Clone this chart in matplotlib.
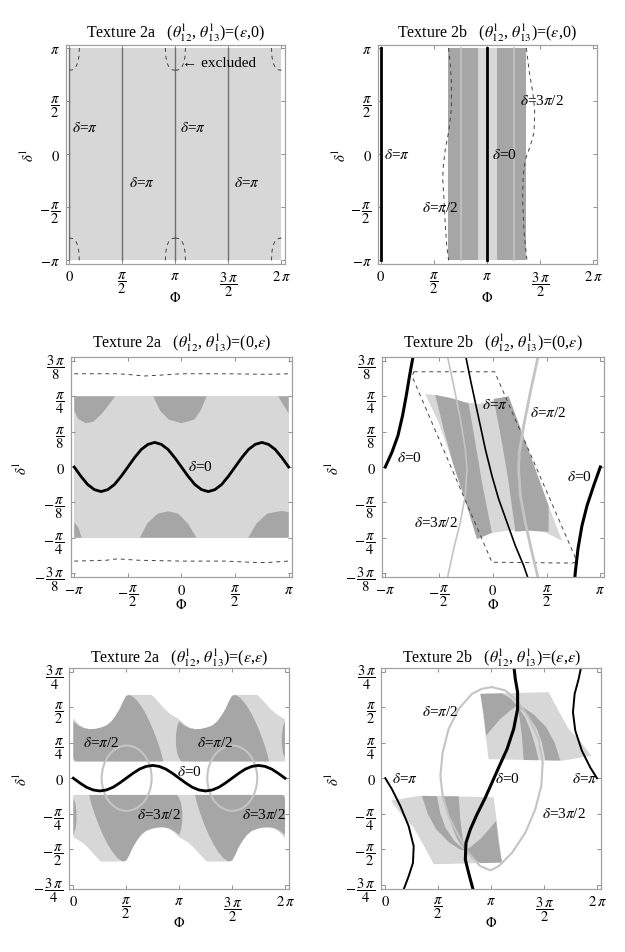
import matplotlib
matplotlib.use("Agg")
import matplotlib.pyplot as plt
from matplotlib.patches import Ellipse

plt.rcParams["font.family"] = ["Liberation Serif", "DejaVu Serif"]
plt.rcParams["mathtext.fontset"] = "stix"

W, H = 625, 953
LIGHT, DARK = "#d7d7d7", "#a6a6a6"
GLINE = "#c4c4c4"

# all coordinates below are in units of pi
# ---- panel 1: texture 2a, (eps, 0)
P1_BAND_X = [0.0, 2.0]
P1_BAND_Y = [-1.0, 1.0]
P1_VLINES = [0.0, 0.5, 1.0, 1.5]
ARC_DX = [0.095, 0.090, 0.080, 0.060, 0.030, 0.0]
ARC_DY = [0.0, 0.08, 0.14, 0.18, 0.205, 0.21]
P1_ARC_CORNERS = [(0.0, 1, [1]), (1.0, 1, [-1, 1]), (2.0, 1, [-1]),
                  (0.0, -1, [1]), (1.0, -1, [-1, 1]), (2.0, -1, [-1])]
P1_LABELS = [(0.023, 0.253), (1.043, 0.253), (0.565, -0.265), (1.555, -0.265)]

# ---- panel 2: texture 2b, (eps, 0)
P2_DARK_X = [0.632, 1.371]
P2_LIGHT_X = [0.912, 1.094]
P2_GLINES = [0.755, 1.257]
P2_BLACK = [0.0, 1.0]
P2_DASH_L_X = [0.638, 0.654, 0.664, 0.664, 0.638, 0.607, 0.588, 0.582, 0.594, 0.607, 0.620, 0.638]
P2_DASH_L_Y = [1.0, 0.836, 0.679, 0.427, 0.207, 0.050, -0.107, -0.233, -0.422, -0.673, -0.862, -1.0]
P2_DASH_R_X = [1.371, 1.399, 1.431, 1.450, 1.444, 1.410, 1.363, 1.341, 1.336, 1.349, 1.377]
P2_DASH_R_Y = [1.0, 0.773, 0.585, 0.427, 0.207, 0.081, -0.045, -0.202, -0.422, -0.736, -1.0]

# ---- panel 3: texture 2a, (0, eps)
P3_BAND_Y = [-0.25, 0.25]
P3_DARK = [
    ([-1.0, -1.0, -0.963, -0.891, -0.823, -0.745, -0.683, -0.62],
     [0.25, 0.199, 0.170, 0.155, 0.160, 0.1875, 0.217, 0.25]),
    ([-0.263, -0.2, -0.12, 0.0, 0.12, 0.18, 0.235],
     [0.25, 0.2, 0.168, 0.155, 0.168, 0.2, 0.25]),
    ([0.903, 0.95, 1.0, 1.0], [0.25, 0.22, 0.19, 0.25]),
    ([-1.0, -0.931, -0.96, -1.0], [-0.25, -0.25, -0.215, -0.196]),
    ([-0.387, -0.32, -0.22, -0.123, -0.03, 0.06, 0.14],
     [-0.25, -0.2, -0.165, -0.157, -0.165, -0.2, -0.25]),
    ([0.623, 0.70, 0.80, 0.935, 1.0, 1.0],
     [-0.25, -0.2, -0.165, -0.155, -0.16, -0.25]),
]
P3_DASH_TOP_X = [-1.0, -0.6, -0.45, -0.35, -0.2, 0.0, 0.4, 0.8, 1.0]
P3_DASH_TOP_Y = [0.330, 0.330, 0.326, 0.322, 0.325, 0.330, 0.330, 0.328, 0.330]
P3_DASH_BOT_X = [-1.0, -0.7, -0.6, -0.4, 0.0, 0.4, 0.7, 0.8, 1.0]
P3_DASH_BOT_Y = [-0.333, -0.330, -0.325, -0.330, -0.333, -0.333, -0.338, -0.338, -0.333]
SIN_X = [-1.0, -0.9375, -0.875, -0.8125, -0.75, -0.6875, -0.625, -0.5625, -0.5,
         -0.4375, -0.375, -0.3125, -0.25, -0.1875, -0.125, -0.0625, 0.0,
         0.0625, 0.125, 0.1875, 0.25, 0.3125, 0.375, 0.4375, 0.5,
         0.5625, 0.625, 0.6875, 0.75, 0.8125, 0.875, 0.9375, 1.0]
P3_SIN_Y = [0, -.033, -.062, -.080, -.087, -.080, -.062, -.033, 0,
            .033, .062, .080, .087, .080, .062, .033, 0,
            -.033, -.062, -.080, -.087, -.080, -.062, -.033, 0,
            .033, .062, .080, .087, .080, .062, .033, 0]

# ---- panel 4: texture 2b, (0, eps)
P4_LIGHT_X = [-0.628, -0.535, -0.38, -0.256, -0.132, -0.008, 0.147, 0.271, 0.395, 0.519, 0.643,
              0.488, 0.333, 0.147, -0.008, -0.147, -0.271, -0.395, -0.504]
P4_LIGHT_Y = [0.258, 0.255, 0.243, 0.229, 0.223, 0.235, 0.25, 0.123, -0.007, -0.137, -0.261,
              -0.231, -0.225, -0.225, -0.233, -0.255, -0.101, 0.04, 0.158]
P4_DARK = [
    ([-0.535, -0.38, -0.225, -0.163, -0.101, -0.008, -0.147, -0.271, -0.364, -0.457],
     [0.255, 0.243, 0.225, 0.087, -0.054, -0.233, -0.255, -0.101, 0.005, 0.134]),
    ([0.008, 0.147, 0.271, 0.395, 0.519, 0.519, 0.333, 0.209, 0.147, 0.085],
     [0.241, 0.25, 0.123, -0.007, -0.137, -0.229, -0.225, -0.229, -0.054, 0.087]),
]
P4_ZERO_L_X = [-1.0, -0.938, -0.882, -0.839, -0.805, -0.774, -0.743, -0.738]
P4_ZERO_L_Y = [0.0, 0.052, 0.111, 0.182, 0.252, 0.323, 0.388, 0.40]
P4_ZERO_R_X = [1.0, 0.938, 0.876, 0.829, 0.792, 0.767, 0.761]
P4_ZERO_R_Y = [0.0, -0.066, -0.137, -0.208, -0.29, -0.373, -0.40]
P4_PI_X = [-0.256, -0.209, -0.163, -0.116, -0.07, -0.008, 0.054, 0.132, 0.209, 0.287, 0.333]
P4_PI_Y = [0.40, 0.311, 0.229, 0.146, 0.064, -0.031, -0.113, -0.196, -0.278, -0.349, -0.40]
P4_3PI2_X = [-0.426, -0.364, -0.302, -0.256, -0.24, -0.256, -0.302, -0.364, -0.426]
P4_3PI2_Y = [0.40, 0.288, 0.17, 0.064, -0.007, -0.101, -0.196, -0.29, -0.40]
P4_PI2_X = [0.426, 0.349, 0.287, 0.247, 0.24, 0.256, 0.302, 0.364, 0.426]
P4_PI2_Y = [0.40, 0.264, 0.146, 0.052, -0.007, -0.101, -0.196, -0.302, -0.40]
P4_DASH_X = [-0.735, -0.72, 0.017, 0.767, 0.767, 0.74, -0.008, -0.75, -0.735]
P4_DASH_Y = [0.337, 0.337, 0.337, -0.32, -0.337, -0.340, -0.337, 0.32, 0.337]

# ---- panel 5: texture 2a, (eps, eps)
P5_TOP_LIGHT_X = [0.0, 0.05, 0.10, 0.15, 0.205, 0.26, 0.315, 0.36, 0.40, 0.44, 0.47, 0.50, 0.53,
                  0.74, 0.80, 0.86, 0.92, 1.0, 1.05, 1.10, 1.15, 1.205, 1.26, 1.315, 1.36, 1.40,
                  1.44, 1.47, 1.50, 1.53, 1.74, 1.80, 1.86, 1.92, 2.0, 2.0, 0.0]
P5_TOP_LIGHT_Y = [0.425, 0.38, 0.356, 0.347, 0.347, 0.356, 0.372, 0.40, 0.44, 0.49, 0.54, 0.58, 0.587,
                  0.587, 0.54, 0.49, 0.45, 0.415, 0.38, 0.356, 0.347, 0.347, 0.356, 0.372, 0.40, 0.44,
                  0.49, 0.54, 0.58, 0.587, 0.587, 0.54, 0.49, 0.45, 0.415, 0.118, 0.118]
P5_TOP_DARK = [
    ([0.0, 0.05, 0.10, 0.15, 0.205, 0.26, 0.315, 0.36, 0.40, 0.44, 0.47, 0.50, 0.53,
      0.58, 0.63, 0.68, 0.72, 0.76, 0.80, 0.83, 0.85, 0.02, 0.0],
     [0.40, 0.37, 0.352, 0.345, 0.347, 0.356, 0.372, 0.40, 0.44, 0.49, 0.54, 0.58, 0.587,
      0.565, 0.52, 0.46, 0.40, 0.33, 0.25, 0.18, 0.118, 0.118, 0.14]),
    ([0.98, 0.97, 0.97, 0.98, 1.0, 1.02, 1.85, 1.83, 1.80, 1.76, 1.72, 1.68, 1.63, 1.58, 1.53,
      1.50, 1.47, 1.44, 1.40, 1.36, 1.315, 1.26, 1.205, 1.15, 1.10, 1.05, 1.0],
     [0.36, 0.30, 0.24, 0.18, 0.14, 0.118, 0.118, 0.18, 0.25, 0.33, 0.40, 0.46, 0.52, 0.565, 0.587,
      0.58, 0.54, 0.49, 0.44, 0.40, 0.372, 0.356, 0.347, 0.345, 0.352, 0.37, 0.40]),
    ([2.0, 1.98, 1.97, 1.97, 1.98, 2.0], [0.40, 0.36, 0.30, 0.24, 0.18, 0.14]),
]
P5_BOT_LIGHT_X = [2.0, 1.95, 1.90, 1.85, 1.795, 1.74, 1.685, 1.64, 1.60, 1.56, 1.53, 1.50, 1.47,
                  1.26, 1.20, 1.14, 1.08, 1.0, 0.95, 0.90, 0.85, 0.795, 0.74, 0.685, 0.64, 0.60,
                  0.56, 0.53, 0.50, 0.47, 0.26, 0.20, 0.14, 0.08, 0.0, 0.0, 2.0]
P5_BOT_LIGHT_Y = [-0.425, -0.38, -0.356, -0.347, -0.347, -0.356, -0.372, -0.40, -0.44, -0.49, -0.54,
                  -0.58, -0.587, -0.587, -0.54, -0.49, -0.45, -0.415, -0.38, -0.356, -0.347, -0.347,
                  -0.356, -0.372, -0.40, -0.44, -0.49, -0.54, -0.58, -0.587, -0.587, -0.54, -0.49,
                  -0.45, -0.415, -0.118, -0.118]
P5_BOT_DARK = [
    ([2.0, 1.95, 1.90, 1.85, 1.795, 1.74, 1.685, 1.64, 1.60, 1.56, 1.53, 1.50, 1.47,
      1.42, 1.37, 1.32, 1.28, 1.24, 1.20, 1.17, 1.15, 1.98, 2.0],
     [-0.40, -0.37, -0.352, -0.345, -0.347, -0.356, -0.372, -0.40, -0.44, -0.49, -0.54, -0.58, -0.587,
      -0.565, -0.52, -0.46, -0.40, -0.33, -0.25, -0.18, -0.118, -0.118, -0.14]),
    ([1.02, 1.03, 1.03, 1.02, 1.0, 0.98, 0.15, 0.17, 0.20, 0.24, 0.28, 0.32, 0.37, 0.42, 0.47,
      0.50, 0.53, 0.56, 0.60, 0.64, 0.685, 0.74, 0.795, 0.85, 0.90, 0.95, 1.0],
     [-0.36, -0.30, -0.24, -0.18, -0.14, -0.118, -0.118, -0.18, -0.25, -0.33, -0.40, -0.46, -0.52,
      -0.565, -0.587, -0.58, -0.54, -0.49, -0.44, -0.40, -0.372, -0.356, -0.347, -0.345, -0.352,
      -0.37, -0.40]),
    ([0.0, 0.02, 0.03, 0.03, 0.02, 0.0], [-0.40, -0.36, -0.30, -0.24, -0.18, -0.14]),
]
P5_ELLIPSES = [(0.504, 0.0), (1.502, 0.0)]
P5_ELL_W, P5_ELL_H = 0.472, 0.46
SIN2_X = [0.0, 0.0625, 0.125, 0.1875, 0.25, 0.3125, 0.375, 0.4375, 0.5,
          0.5625, 0.625, 0.6875, 0.75, 0.8125, 0.875, 0.9375, 1.0,
          1.0625, 1.125, 1.1875, 1.25, 1.3125, 1.375, 1.4375, 1.5,
          1.5625, 1.625, 1.6875, 1.75, 1.8125, 1.875, 1.9375, 2.0]
P5_SIN_Y = [0, -.034, -.064, -.083, -.09, -.083, -.064, -.034, 0,
            .034, .064, .083, .09, .083, .064, .034, 0,
            -.034, -.064, -.083, -.09, -.083, -.064, -.034, 0,
            .034, .064, .083, .09, .083, .064, .034, 0]

# ---- panel 6: texture 2b, (eps, eps)
P6_LIGHT = [
    ([0.898, 1.543, 1.64, 1.732, 1.827, 1.946, 1.669, 0.976],
     [0.594, 0.606, 0.47, 0.347, 0.276, 0.158, 0.123, 0.134]),
    ([1.102, 0.457, 0.36, 0.268, 0.173, 0.054, 0.331, 1.024],
     [-0.594, -0.606, -0.47, -0.347, -0.276, -0.158, -0.123, -0.134]),
]
P6_DARK = [
    ([0.898, 1.10, 1.18, 1.244, 1.17, 1.09, 1.02, 0.953, 0.93],
     [0.594, 0.598, 0.565, 0.512, 0.47, 0.42, 0.36, 0.30, 0.45]),
    ([1.244, 1.27, 1.29, 1.30, 1.307, 1.449, 1.42, 1.38, 1.32],
     [0.512, 0.42, 0.30, 0.20, 0.128, 0.127, 0.22, 0.32, 0.43]),
    ([1.244, 1.35, 1.43, 1.48, 1.512, 1.654, 1.60, 1.52, 1.40, 1.30],
     [0.512, 0.44, 0.35, 0.25, 0.126, 0.125, 0.25, 0.36, 0.45, 0.50]),
    ([1.102, 0.90, 0.82, 0.756, 0.83, 0.91, 0.98, 1.047, 1.07],
     [-0.594, -0.598, -0.565, -0.512, -0.47, -0.42, -0.36, -0.30, -0.45]),
    ([0.756, 0.73, 0.71, 0.70, 0.693, 0.551, 0.58, 0.62, 0.68],
     [-0.512, -0.42, -0.30, -0.20, -0.128, -0.127, -0.22, -0.32, -0.43]),
    ([0.756, 0.65, 0.57, 0.52, 0.488, 0.346, 0.40, 0.48, 0.60, 0.70],
     [-0.512, -0.44, -0.35, -0.25, -0.126, -0.125, -0.25, -0.36, -0.45, -0.50]),
]
P6_LOOP_X = [1.008, 1.134, 1.244, 1.354, 1.449, 1.487, 1.474, 1.417, 1.323, 1.197, 1.071, 0.992,
             0.898, 0.787, 0.693, 0.598, 0.542, 0.520, 0.542, 0.598, 0.693, 0.819, 0.913, 1.008]
P6_LOOP_Y = [0.642, 0.618, 0.547, 0.429, 0.276, 0.111, -0.054, -0.219, -0.384, -0.526, -0.620, -0.649,
             -0.620, -0.526, -0.408, -0.267, -0.125, 0.017, 0.182, 0.347, 0.488, 0.594, 0.630, 0.642]
P6_ZERO_X = [0.835, 0.787, 0.756, 0.762, 0.803, 0.866, 0.945, 1.008, 1.071, 1.15, 1.213, 1.25,
             1.25, 1.228, 1.213]
P6_ZERO_Y = [-0.80, -0.667, -0.573, -0.455, -0.361, -0.255, -0.137, -0.031, 0.075, 0.205, 0.347, 0.488,
             0.606, 0.70, 0.80]
P6_PI_L_X = [0.0, 0.063, 0.142, 0.22, 0.268, 0.261, 0.22, 0.165]
P6_PI_L_Y = [0.0, -0.078, -0.196, -0.337, -0.479, -0.597, -0.691, -0.80]
P6_PI_R_X = [2.0, 1.937, 1.858, 1.795, 1.773, 1.789, 1.827, 1.855]
P6_PI_R_Y = [0.0, 0.075, 0.193, 0.335, 0.465, 0.594, 0.70, 0.80]

# ---- ticks
TK_2PI = [0, 0.5, 1, 1.5, 2]
TK_2PI_LAB = [r"$0$", r"$\dfrac{\pi}{2}$", r"$\pi$", r"$\dfrac{3\,\pi}{2}$", r"$2\,\pi$"]
TK_PI = [-1, -0.5, 0, 0.5, 1]
TK_PI_LAB = [r"$-\pi$", r"$-\,\dfrac{\pi}{2}$", r"$0$", r"$\dfrac{\pi}{2}$", r"$\pi$"]
TK_38 = [-0.375, -0.25, -0.125, 0, 0.125, 0.25, 0.375]
TK_38_LAB = [r"$-\,\dfrac{3\,\pi}{8}$", r"$-\,\dfrac{\pi}{4}$", r"$-\,\dfrac{\pi}{8}$", r"$0$",
             r"$\dfrac{\pi}{8}$", r"$\dfrac{\pi}{4}$", r"$\dfrac{3\,\pi}{8}$"]
TK_34 = [-0.75, -0.5, -0.25, 0, 0.25, 0.5, 0.75]
TK_34_LAB = [r"$-\,\dfrac{3\,\pi}{4}$", r"$-\,\dfrac{\pi}{2}$", r"$-\,\dfrac{\pi}{4}$", r"$0$",
             r"$\dfrac{\pi}{4}$", r"$\dfrac{\pi}{2}$", r"$\dfrac{3\,\pi}{4}$"]


def add_ax(fig, l, t, r, b):
    ax = fig.add_axes([l / W, 1 - b / H, (r - l) / W, (b - t) / H])
    for s in ax.spines.values():
        s.set_color("#a0a0a0")
        s.set_linewidth(0.9)
    ax.tick_params(direction="in", length=3, width=0.6, color="#808080",
                   labelsize=10.5, pad=4, top=True, right=True)
    return ax


def lab(ax, x, y, s, **kw):
    ax.text(x, y, s, fontsize=11, ha="left", va="center", **kw)


fig = plt.figure(figsize=(W / 100, H / 100), dpi=100)

# panel 1
ax = add_ax(fig, 65.8, 45.5, 285.0, 264.8)
ax.fill_between(P1_BAND_X, P1_BAND_Y[0], P1_BAND_Y[1], color=LIGHT, lw=0)
for xv in P1_VLINES:
    ax.plot([xv, xv], P1_BAND_Y, color="#707070", lw=1.0)
for cx, sy, sides in P1_ARC_CORNERS:
    for sx in sides:
        ax.plot([cx + sx * d for d in ARC_DX], [sy * (1 - d) for d in ARC_DY],
                color="#444444", lw=0.7, dashes=(4, 4))
lab(ax, 1.06, 0.866, "\u2190 excluded")
for x, y in P1_LABELS:
    lab(ax, x, y, r"$\delta$=$\pi$")
ax.set_xlim(-0.033, 2.033)
ax.set_ylim(-1.033, 1.033)
ax.set_xticks(TK_2PI, TK_2PI_LAB)
ax.set_yticks(TK_PI, TK_PI_LAB)

# panel 2
ax = add_ax(fig, 377.5, 45.5, 596.5, 264.8)
ax.fill_between(P2_DARK_X, -1, 1, color=DARK, lw=0)
ax.fill_between(P2_LIGHT_X, -1, 1, color=LIGHT, lw=0)
for xv in P2_GLINES:
    ax.plot([xv, xv], [-1, 1], color=GLINE, lw=1.2)
for xv in P2_BLACK:
    ax.plot([xv, xv], [-1, 1], color="black", lw=2.0)
ax.plot(P2_DASH_L_X, P2_DASH_L_Y, color="#444444", lw=0.7, dashes=(4, 4))
ax.plot(P2_DASH_R_X, P2_DASH_R_Y, color="#444444", lw=0.7, dashes=(4, 4))
lab(ax, 0.025, 0.0, r"$\delta$=$\pi$")
lab(ax, 1.047, 0.0, r"$\delta$=0")
lab(ax, 1.314, 0.506, r"$\delta$=3$\pi$/2")
lab(ax, 0.387, -0.5, r"$\delta$=$\pi$/2")
ax.set_xlim(-0.033, 2.033)
ax.set_ylim(-1.033, 1.033)
ax.set_xticks(TK_2PI, TK_2PI_LAB)
ax.set_yticks(TK_PI, TK_PI_LAB)

# panel 3
ax = add_ax(fig, 70.5, 357.8, 292.4, 578.2)
ax.fill_between([-1, 1], P3_BAND_Y[0], P3_BAND_Y[1], color=LIGHT, lw=0)
for xs, ys in P3_DARK:
    ax.fill(xs, ys, color=DARK, lw=0)
ax.plot(P3_DASH_TOP_X, P3_DASH_TOP_Y, color="#444444", lw=0.7, dashes=(4, 4))
ax.plot(P3_DASH_BOT_X, P3_DASH_BOT_Y, color="#444444", lw=0.7, dashes=(4, 4))
ax.plot(SIN_X, P3_SIN_Y, color="black", lw=2.0)
lab(ax, 0.058, 0.005, r"$\delta$=0")
ax.set_xlim(-1.035, 1.035)
ax.set_ylim(-0.39, 0.39)
ax.set_xticks(TK_PI, TK_PI_LAB)
ax.set_yticks(TK_38, TK_38_LAB)

# panel 4
ax = add_ax(fig, 381.5, 357.8, 604.1, 578.2)
ax.fill(P4_LIGHT_X, P4_LIGHT_Y, color=LIGHT, lw=0)
for xs, ys in P4_DARK:
    ax.fill(xs, ys, color=DARK, lw=0)
ax.plot(P4_DASH_X, P4_DASH_Y, color="#444444", lw=0.7, dashes=(4, 4))
ax.plot(P4_3PI2_X, P4_3PI2_Y, color=GLINE, lw=1.2)
ax.plot(P4_PI2_X, P4_PI2_Y, color=GLINE, lw=2.0)
ax.plot(P4_PI_X, P4_PI_Y, color="black", lw=1.2)
ax.plot(P4_ZERO_L_X, P4_ZERO_L_Y, color="black", lw=2.2)
ax.plot(P4_ZERO_R_X, P4_ZERO_R_Y, color="black", lw=2.2)
lab(ax, -0.101, 0.223, r"$\delta$=$\pi$")
lab(ax, 0.349, 0.193, r"$\delta$=$\pi$/2")
lab(ax, -0.891, 0.034, r"$\delta$=0")
lab(ax, 0.69, -0.031, r"$\delta$=0")
lab(ax, -0.736, -0.196, r"$\delta$=3$\pi$/2")
ax.set_xlim(-1.035, 1.035)
ax.set_ylim(-0.39, 0.39)
ax.set_xticks(TK_PI, TK_PI_LAB)
ax.set_yticks(TK_38, TK_38_LAB)

# panel 5
ax = add_ax(fig, 69.1, 668.9, 289.2, 889.5)
ax.fill(P5_TOP_LIGHT_X, P5_TOP_LIGHT_Y, color=LIGHT, lw=0)
ax.fill(P5_BOT_LIGHT_X, P5_BOT_LIGHT_Y, color=LIGHT, lw=0)
for xs, ys in P5_TOP_DARK + P5_BOT_DARK:
    ax.fill(xs, ys, color=DARK, lw=0)
for cx, cy in P5_ELLIPSES:
    ax.add_patch(Ellipse((cx, cy), P5_ELL_W, P5_ELL_H, fill=False, ec=GLINE, lw=1.5))
ax.plot(SIN2_X, P5_SIN_Y, color="black", lw=2.0)
lab(ax, 0.09, 0.252, r"$\delta$=$\pi$/2")
lab(ax, 1.17, 0.252, r"$\delta$=$\pi$/2")
lab(ax, 0.975, 0.052, r"$\delta$=0")
lab(ax, 0.6, -0.255, r"$\delta$=3$\pi$/2")
lab(ax, 1.59, -0.255, r"$\delta$=3$\pi$/2")
ax.set_xlim(-0.04, 2.04)
ax.set_ylim(-0.777, 0.777)
ax.set_xticks(TK_2PI, TK_2PI_LAB)
ax.set_yticks(TK_34, TK_34_LAB)

# panel 6
ax = add_ax(fig, 381.1, 668.9, 601.2, 889.5)
for xs, ys in P6_LIGHT:
    ax.fill(xs, ys, color=LIGHT, lw=0)
for xs, ys in P6_DARK:
    ax.fill(xs, ys, color=DARK, lw=0)
ax.plot(P6_LOOP_X, P6_LOOP_Y, color=GLINE, lw=1.5)
ax.plot(P6_ZERO_X, P6_ZERO_Y, color="black", lw=2.2)
ax.plot(P6_PI_L_X, P6_PI_L_Y, color="black", lw=1.4)
ax.plot(P6_PI_R_X, P6_PI_R_Y, color="black", lw=1.4)
lab(ax, 0.35, 0.476, r"$\delta$=$\pi$/2")
lab(ax, 0.06, 0.0, r"$\delta$=$\pi$")
lab(ax, 1.04, 0.0, r"$\delta$=0")
lab(ax, 1.76, 0.0, r"$\delta$=$\pi$")
lab(ax, 1.48, -0.243, r"$\delta$=3$\pi$/2")
ax.set_xlim(-0.04, 2.04)
ax.set_ylim(-0.777, 0.777)
ax.set_xticks(TK_2PI, TK_2PI_LAB)
ax.set_yticks(TK_34, TK_34_LAB)

# titles and axis labels
TITLES = [
    (175.5, 33, r"Texture 2a   ($\theta^{\rm l}_{12}$, $\theta^{\rm l}_{13}$)=($\epsilon$,0)"),
    (487.0, 33, r"Texture 2b   ($\theta^{\rm l}_{12}$, $\theta^{\rm l}_{13}$)=($\epsilon$,0)"),
    (181.5, 343, r"Texture 2a   ($\theta^{\rm l}_{12}$, $\theta^{\rm l}_{13}$)=(0,$\epsilon$)"),
    (492.8, 343, r"Texture 2b   ($\theta^{\rm l}_{12}$, $\theta^{\rm l}_{13}$)=(0,$\epsilon$)"),
    (179.0, 658, r"Texture 2a   ($\theta^{\rm l}_{12}$, $\theta^{\rm l}_{13}$)=($\epsilon$,$\epsilon$)"),
    (491.0, 658, r"Texture 2b   ($\theta^{\rm l}_{12}$, $\theta^{\rm l}_{13}$)=($\epsilon$,$\epsilon$)"),
]
for x, y, s in TITLES:
    fig.text(x / W, 1 - y / H, s, fontsize=11.5, ha="center", va="center")

PHI_POS = [(175.5, 297.7), (487.0, 297.7), (181.5, 605), (492.8, 605), (179.0, 922.7), (491.0, 922.7)]
for x, y in PHI_POS:
    fig.text(x / W, 1 - y / H, r"$\Phi$", fontsize=10, ha="center", va="center")
DEL_POS = [(28, 155), (340, 155), (21.7, 468), (333.7, 468), (21.7, 779), (333.7, 779)]
for x, y in DEL_POS:
    fig.text(x / W, 1 - y / H, r"$\delta^{\rm l}$", fontsize=10.5, ha="center", va="center", rotation=90)

fig.savefig("out.png", dpi=100)
